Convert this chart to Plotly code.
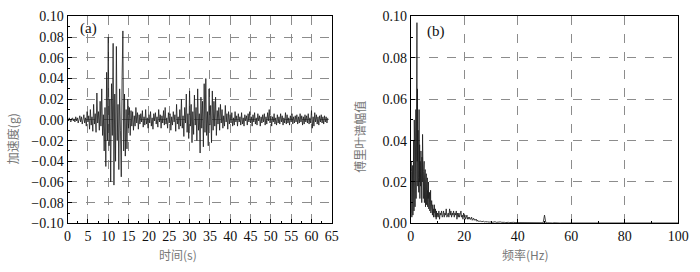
import numpy as np
import plotly.graph_objects as go

# ---- (a) acceleration time history, sampled every 0.2 s, values in 0.001 g ----
dt = 0.2
acc_mg = [
    1, -1, 2, 0, -2, 1, 2, -1, 1, -2,             # 0-2 s
    3, -1, 2, -3, 1, 4, -2, 3, -4, 2,             # 2-4
    5, -3, 2, -6, 8, -2, 4, -9, 10, -5,           # 4-6
    3, -11, 15, -4, 6, -12, 26, -3, 8, -10,       # 6-8
    18, -6, 30, -15, 5, -30, 12, -45, 46, -20,    # 8-10
    80, -25, 20, -60, 35, -15, 74, -63, 25, -40,  # 10-12
    71, -20, 15, -48, 30, -10, -55, 40, 86, -30,  # 12-14
    25, -35, 10, -28, 20, -8, 12, -15, 9, -6,     # 14-16
    8, -10, 4, -6, 12, -3, 7, -9, 5, -4,          # 16-18
    6, -2, 9, -7, 3, -5, 10, -4, 2, -8,           # 18-20
    5, -3, 8, -6, 2, -9, 6, -1, 7, -4,            # 20-22
    3, -7, 10, -2, 5, -8, 4, -3, 9, -5,           # 22-24
    12, -4, 2, -8, 7, -3, 6, -10, 3, -5,          # 24-26
    8, -2, 5, -11, 15, -4, 3, -9, 10, -6,         # 26-28
    20, -8, 4, -16, 12, -3, 25, -12, 6, -18,      # 28-30
    28, -6, 15, -22, 8, -14, 24, -5, 12, -20,     # 30-32
    30, -10, 6, -32, 22, -8, 18, -26, 35, -12,    # 32-34
    40, -15, 8, -25, 30, -5, 14, -22, 28, -10,    # 34-36
    18, -6, 22, -15, 9, -4, 12, -10, 15, -3,      # 36-38
    10, -8, 4, -6, 14, -2, 6, -9, 8, -4,          # 38-40
    5, -3, 7, -6, 2, -5, 8, -2, 4, -6,            # 40-42
    6, -2, 3, -5, 7, -4, 2, -6, 5, -1,            # 42-44
    4, -5, 6, -2, 8, -3, 3, -6, 5, -2,            # 44-46
    7, -4, 2, -5, 6, -1, 4, -6, 3, -3,            # 46-48
    5, -2, 6, -5, 3, -4, 7, -1, 10, -3,           # 48-50
    4, -6, 3, -2, 6, -4, 2, -5, 5, -3,            # 50-52
    3, -4, 6, -2, 4, -5, 2, -3, 7, -4,            # 52-54
    5, -3, 2, -5, 4, -2, 6, -4, 3, -3,            # 54-56
    4, -2, 5, -4, 3, -3, 6, -2, 4, -5,            # 56-58
    3, -4, 5, -2, 4, -3, 6, -4, 2, -3,            # 58-60
    9, -8, 3, -6, 7, -2, 5, -4, 3, -5,            # 60-62
    4, -2, 5, -3, 3, -4, 4, -2, 3, -3,            # 62-64
    2,
]
time_s = np.arange(len(acc_mg)) * dt
acc_g = np.array(acc_mg) * 0.001

# ---- (b) Fourier amplitude spectrum, values in 0.001 ----
spec_low = [  # 0.0 - 9.9 Hz, step 0.1
    5, 30, 8, 25, 3, 20, 12, 28, 4, 32,
    10, 40, 6, 50, 15, 35, 8, 45, 20, 55,
    12, 60, 25, 97, 30, 65, 18, 45, 22, 40,
    15, 55, 20, 38, 12, 30, 25, 18, 35, 14,
    28, 10, 32, 20, 43, 15, 30, 12, 25, 18,
    30, 10, 22, 14, 26, 8, 20, 12, 24, 9,
    18, 10, 22, 8, 16, 12, 20, 7, 14, 10,
    15, 6, 13, 9, 16, 5, 12, 8, 11, 6,
    10, 4, 9, 6, 8, 3, 7, 5, 9, 3,
    6, 3, 7, 4, 5, 2, 6, 3, 5, 4,
]
spec_mid = [  # 10.0 - 29.75 Hz, step 0.25
    5, 3, 6, 2, 5, 4, 6, 3,
    4, 6, 3, 5, 4, 7, 3, 5,
    5, 3, 7, 4, 6, 3, 5, 4,
    6, 3, 5, 4, 6, 2, 5, 3,
    5, 3, 4, 6, 3, 4, 2, 5,
    3, 4, 2, 3, 4, 2, 3, 2,
    3, 2, 2, 3, 1.5, 2, 2.5, 1.5,
    2, 1.5, 2, 1, 1.5, 1, 1.2, 1,
    1, 1.2, 0.8, 1, 0.8, 1, 0.7, 0.9,
    0.8, 0.7, 1, 0.6, 0.8, 0.7, 0.6, 0.8,
]
spec_high = [  # 30 - 100 Hz, step 0.5
    0.7, 0.5, 0.6, 0.8, 0.5, 0.6, 0.4, 0.7, 0.5, 0.6, 0.5, 0.4, 0.6, 0.5, 0.4, 0.5, 0.3, 0.5, 0.4, 0.4,
    0.4, 0.3, 0.4, 0.3, 0.3, 0.4, 0.3, 0.3, 0.4, 0.3, 0.3, 0.3, 0.3, 0.3, 0.3, 0.3, 0.3, 0.3, 0.3, 0.3,
    4.0, 0.3, 0.3, 0.2, 0.3, 0.2, 0.2, 0.3, 0.2, 0.2, 0.3, 0.2, 0.2, 0.2, 0.2, 0.2, 0.2, 0.2, 0.2, 0.2,
    0.3, 0.2, 0.2, 0.2, 0.2, 0.2, 0.2, 0.2, 0.2, 0.2, 0.2, 0.2, 0.2, 0.2, 0.2, 0.2, 0.2, 0.2, 0.2, 0.2,
    0.3, 0.2, 0.2, 0.2, 0.2, 0.2, 0.2, 0.2, 0.2, 0.2, 0.2, 0.2, 0.2, 0.2, 0.2, 0.2, 0.2, 0.2, 0.2, 0.2,
    0.2, 0.2, 0.2, 0.2, 0.2, 0.2, 0.2, 0.2, 0.2, 0.2, 0.2, 0.2, 0.2, 0.2, 0.2, 0.2, 0.2, 0.2, 0.2, 0.2,
    0.2, 0.2, 0.2, 0.2, 0.2, 0.2, 0.2, 0.2, 0.2, 0.2, 0.2, 0.2, 0.2, 0.2, 0.2, 0.2, 0.2, 0.2, 0.2, 0.2,
    0.2,
]
freq = np.concatenate([
    np.arange(len(spec_low)) * 0.1,
    10 + np.arange(len(spec_mid)) * 0.25,
    30 + np.arange(len(spec_high)) * 0.5,
])
spec = np.array(spec_low + spec_mid + spec_high) * 0.001

a_xticks = list(range(0, 66, 5))
a_yticks = [-0.10, -0.08, -0.06, -0.04, -0.02, 0.00, 0.02, 0.04, 0.06, 0.08, 0.10]
b_xticks = [0, 20, 40, 60, 80, 100]
b_yticks = [0.00, 0.02, 0.04, 0.06, 0.08, 0.10]

fig = go.Figure()
fig.add_trace(go.Scatter(x=time_s, y=acc_g, mode="lines",
                         line=dict(color="#1a1a1a", width=0.8),
                         xaxis="x", yaxis="y", showlegend=False, hoverinfo="skip"))
fig.add_trace(go.Scatter(x=freq, y=spec, mode="lines",
                         line=dict(color="#1a1a1a", width=0.8),
                         xaxis="x2", yaxis="y2", showlegend=False, hoverinfo="skip"))

SERIF = "Liberation Serif"
tickfont = dict(family=SERIF, size=14, color="#111")
common = dict(showline=True, linecolor="black", linewidth=1.2, mirror=True,
              ticks="inside", ticklen=4, tickwidth=1.2, tickcolor="black",
              showgrid=True, gridcolor="#8c8c8c", griddash="dash", gridwidth=0.8,
              zeroline=False, tickfont=tickfont)

H = 272.0
ydom = [1 - 229 / H, 1 - 10 / H]
fig.update_layout(
    width=700, height=272,
    margin=dict(l=0, r=0, t=0, b=0),
    paper_bgcolor="white", plot_bgcolor="white",
    font=dict(family=SERIF),
    xaxis=dict(domain=[65 / 700, 335 / 700], range=[0, 65], tickvals=a_xticks,
               minor=dict(dtick=2.5, ticks="inside", ticklen=2, tickcolor="black", showgrid=False),
               anchor="y", **common),
    yaxis=dict(domain=ydom, range=[-0.10, 0.10], tickvals=a_yticks,
               ticktext=[("\u2212%.2f" % -v) if v < 0 else "%.2f" % v for v in a_yticks],
               minor=dict(dtick=0.01, ticks="inside", ticklen=2, tickcolor="black", showgrid=False),
               anchor="x", **common),
    xaxis2=dict(domain=[415.7 / 700, 689 / 700], range=[0, 100], tickvals=b_xticks,
                minor=dict(dtick=10, ticks="inside", ticklen=2, tickcolor="black", showgrid=False),
                anchor="y2", **common),
    yaxis2=dict(domain=ydom, range=[0, 0.10], tickvals=b_yticks,
                ticktext=["%.2f" % v for v in b_yticks],
                minor=dict(dtick=0.01, ticks="inside", ticklen=2, tickcolor="black", showgrid=False),
                anchor="x2", **common),
)

cjk = dict(family="Noto Sans CJK SC", size=12, color="#777")
serif = dict(family=SERIF, size=15, color="#111")


def label(px, py, text, font, angle=0):
    fig.add_annotation(x=px / 700, y=1 - py / H, xref="paper", yref="paper",
                       xanchor="center", yanchor="middle", text=text,
                       textangle=angle, showarrow=False, font=font)


label(178, 262, "时间(s)", cjk)
label(533, 262, "频率(Hz)", cjk)
label(9, 139, "加速度(g)", cjk, -90)
label(363, 137, "傅里叶谱幅值", cjk, -90)
label(86, 23, "(a)", serif)
label(441, 26, "(b)", serif)

fig.write_html("out.html", config={"displayModeBar": False},
               post_script="document.body.style.margin='0';document.body.style.padding='0';")
